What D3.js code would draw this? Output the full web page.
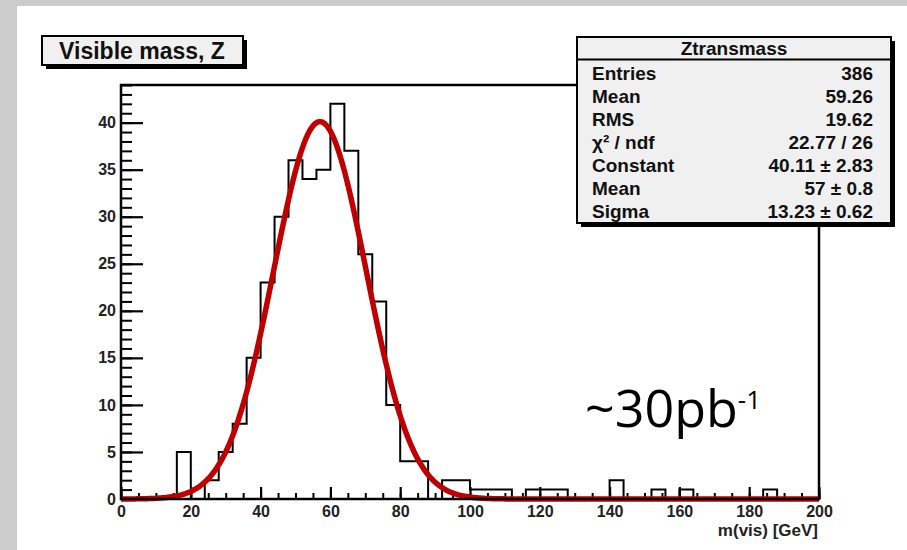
<!DOCTYPE html>
<html><head><meta charset="utf-8">
<script src="https://cdn.jsdelivr.net/npm/d3@7"></script>
<style>body{margin:0;background:#fff;} svg{display:block;}</style>
</head><body>
<svg id="c" width="907" height="550"></svg>
<script>
// ---- data ----
const binWidth = 4;
const binStarts = [0,4,8,12,16,20,24,28,32,36,40,44,48,52,56,60,64,68,72,76,80,84,88,92,96,
                   100,104,108,112,116,120,124,128,132,136,140,144,148,152,156,160,164,168,172,176,180,184,188,192,196];
const counts = [0,0,0,0,5,0,2,5,8,15,23,30,36,34,35,42,37,26,21,10,4,4,0,2,2,
                1,1,1,0,1,1,1,0,0,0,2,0,0,1,0,1,0,0,0,0,0,1,0,0,0];
const xTicks = [0,20,40,60,80,100,120,140,160,180,200];
const yTicks = [0,5,10,15,20,25,30,35,40];
const fitConstant = 40.11, fitMean = 57, fitSigma = 13.23;
const statTitle = "Ztransmass";
const statLabels = ["Entries","Mean","RMS","χ² / ndf","Constant","Mean","Sigma"];
const statValues = ["386","59.26","19.62","22.77 / 26","40.11 ± 2.83","57 ± 0.8","13.23 ± 0.62"];
const chartTitle = "Visible mass, Z";
const xTitle = "m(vis) [GeV]";

// ---- drawing ----
const svg = d3.select("#c");
const FONT = "'Liberation Sans', Arial, Helvetica, sans-serif";
svg.append("rect").attr("width",907).attr("height",550).attr("fill","#cccccc");
svg.append("rect").attr("x",17).attr("y",6).attr("width",890).attr("height",544).attr("fill","#ffffff");

const x = d3.scaleLinear().domain([0,200]).range([121,819]);
const y = d3.scaleLinear().domain([0,44]).range([499,85]);

// axes (ticks pointing inward)
function styleAxis(g, sw){
  g.select(".domain").remove();
  g.selectAll(".tick line").attr("stroke","#000").attr("stroke-width",sw);
  g.selectAll("text").attr("font-family",FONT).attr("font-size",16).attr("font-weight","bold").attr("fill","#222");
}
svg.append("g").attr("transform","translate(121,0)")
  .call(d3.axisLeft(y).tickValues(d3.range(0,45,1)).tickSize(-11).tickFormat(""))
  .call(g=>styleAxis(g,2));
svg.append("g").attr("transform","translate(121,0)")
  .call(d3.axisLeft(y).tickValues(yTicks).tickSize(-22).tickPadding(5))
  .call(g=>styleAxis(g,2.2));
svg.append("g").attr("transform","translate(0,499)")
  .call(d3.axisBottom(x).tickValues(d3.range(0,201,5)).tickSize(-6).tickFormat(""))
  .call(g=>styleAxis(g,2));
svg.append("g").attr("transform","translate(0,499)")
  .call(d3.axisBottom(x).tickValues(xTicks).tickSize(-12).tickPadding(7))
  .call(g=>styleAxis(g,2.2));

// histogram outline
const pts = binStarts.map((b,i)=>[b, counts[i]]);
pts.push([binStarts[binStarts.length-1]+binWidth, counts[counts.length-1]]);
svg.append("path").datum(pts)
  .attr("d", d3.line().x(d=>x(d[0])).y(d=>y(d[1])).curve(d3.curveStepAfter))
  .attr("fill","none").attr("stroke","#000").attr("stroke-width",2);

// gaussian fit function (parameters from the stats box)
svg.append("clipPath").attr("id","fclip").append("rect")
  .attr("x",121).attr("y",60).attr("width",698).attr("height",450);
const fx = d3.range(0, 200.01, 0.5);
svg.append("path").datum(fx)
  .attr("clip-path","url(#fclip)")
  .attr("d", d3.line().x(d=>x(d)).y(d=>y(fitConstant*Math.exp(-0.5*Math.pow((d-fitMean)/fitSigma,2)))))
  .attr("fill","none").attr("stroke","#c00000").attr("stroke-width",5.5).attr("stroke-linejoin","round");

// frame
svg.append("rect").attr("x",121).attr("y",85).attr("width",698).attr("height",414)
  .attr("fill","none").attr("stroke","#000").attr("stroke-width",2.5);

// x title
svg.append("text").attr("x",818).attr("y",536).attr("text-anchor","end")
  .attr("font-family",FONT).attr("font-size",17).attr("font-weight","bold").attr("fill","#222").text(xTitle);

// title box
svg.append("rect").attr("x",46).attr("y",40).attr("width",201).attr("height",29).attr("fill","#000");
svg.append("rect").attr("x",42).attr("y",36).attr("width",201).attr("height",29)
  .attr("fill","#f0f0f0").attr("stroke","#000").attr("stroke-width",2);
svg.append("text").attr("x",142).attr("y",59).attr("text-anchor","middle")
  .attr("font-family",FONT).attr("font-size",23).attr("font-weight","bold").attr("fill","#111").text(chartTitle);

// stats box
svg.append("rect").attr("x",581).attr("y",41).attr("width",314).attr("height",186).attr("fill","#000");
svg.append("rect").attr("x",577).attr("y",37).attr("width",314).attr("height",186)
  .attr("fill","#f0f0f0").attr("stroke","#000").attr("stroke-width",2);
svg.append("line").attr("x1",577).attr("x2",891).attr("y1",59.5).attr("y2",59.5)
  .attr("stroke","#000").attr("stroke-width",2);
svg.append("text").attr("x",734).attr("y",55).attr("text-anchor","middle")
  .attr("font-family",FONT).attr("font-size",19).attr("font-weight","bold").attr("fill","#111").text(statTitle);
statLabels.forEach((l,i)=>{
  svg.append("text").attr("x",592).attr("y",80+23*i)
    .attr("font-family",FONT).attr("font-size",19).attr("font-weight","bold").attr("fill","#111").text(l);
  svg.append("text").attr("x",873).attr("y",80+23*i).attr("text-anchor","end")
    .attr("font-family",FONT).attr("font-size",19).attr("font-weight","bold").attr("fill","#111").text(statValues[i]);
});

// luminosity annotation
const lum = svg.append("text").attr("x",585).attr("y",427)
  .attr("font-family","'Open Sans', 'Noto Sans', sans-serif").attr("font-size",52).attr("fill","#000");
lum.append("tspan").text("~30pb");
lum.append("tspan").attr("dy",-18).attr("font-size",26).text("-1");
</script>
</body></html>
